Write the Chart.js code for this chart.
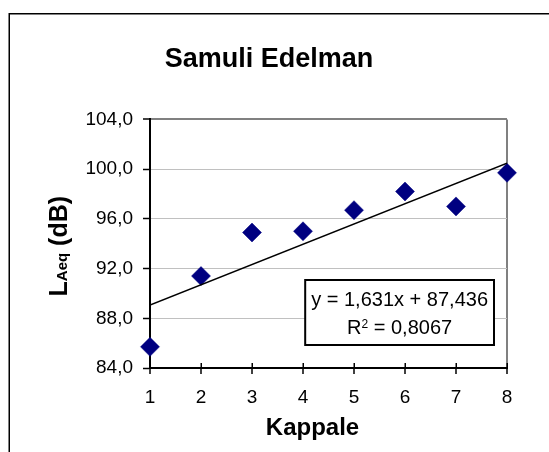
<!DOCTYPE html>
<html>
<head>
<meta charset="utf-8">
<script src="https://cdn.jsdelivr.net/npm/chart.js@4/dist/chart.umd.min.js"></script>
<style>
  html, body { margin: 0; padding: 0; background: #fff; }
  canvas { display: block; }
</style>
</head>
<body>
<canvas id="chart" width="549" height="452"></canvas>
<script>
// Song number and measured equivalent sound level per song
const songNumbers = [1, 2, 3, 4, 5, 6, 7, 8];
const laeqValues  = [85.7, 91.4, 94.9, 95.0, 96.7, 98.2, 97.0, 99.7];
const yTickValues = [84, 88, 92, 96, 100, 104];

// Linear trend reported for the series
const trendSlope = 1.631;
const trendIntercept = 87.436;
const trendR2 = 0.8067;

const chartTitle = 'Samuli Edelman';
const xAxisTitle = 'Kappale';

const FONT = "'Liberation Sans', Arial, Helvetica, sans-serif";
const fmt = (v, d) => v.toFixed(d).replace('.', ',');

const firstX = songNumbers[0];
const lastX = songNumbers[songNumbers.length - 1];
const trendPoints = [firstX, lastX].map(x => ({ x: x, y: trendSlope * x + trendIntercept }));

const decor = {
  id: 'decor',
  beforeDraw(chart) {
    const ctx = chart.ctx;
    ctx.save();
    ctx.fillStyle = '#fff';
    ctx.fillRect(0, 0, chart.width, chart.height);
    ctx.strokeStyle = '#000';
    ctx.lineWidth = 1.5;
    ctx.strokeRect(9.25, 13.75, chart.width + 50, chart.height + 50);
    ctx.restore();
  },
  afterDraw(chart) {
    const ctx = chart.ctx;
    const area = chart.chartArea;
    const xs = chart.scales.x;
    ctx.save();

    // inner half of the crossing tick marks on the category axis
    ctx.strokeStyle = '#000';
    ctx.lineWidth = 1.5;
    songNumbers.forEach(v => {
      const px = Math.round(xs.getPixelForValue(v)) + 0.25;
      ctx.beginPath();
      ctx.moveTo(px, area.bottom - 5);
      ctx.lineTo(px, area.bottom);
      ctx.stroke();
    });

    // y axis title: L with subscript Aeq, rotated
    ctx.fillStyle = '#000';
    ctx.textBaseline = 'alphabetic';
    ctx.textAlign = 'left';
    const mainFont = 'bold 25px ' + FONT;
    const subFont = 'bold 15px ' + FONT;
    ctx.font = mainFont; const wL = ctx.measureText('L').width; const wRest = ctx.measureText(' (dB)').width;
    ctx.font = subFont; const wSub = ctx.measureText('Aeq').width;
    const total = wL + wSub + wRest;
    ctx.translate(area.left - 83, (area.top + area.bottom) / 2 + 2.5);
    ctx.rotate(-Math.PI / 2);
    let tx = -total / 2;
    ctx.font = mainFont; ctx.fillText('L', tx, 0); tx += wL;
    ctx.font = subFont; ctx.fillText('Aeq', tx, 0); tx += wSub;
    ctx.font = mainFont; ctx.fillText(' (dB)', tx, 0);
    ctx.setTransform(1, 0, 0, 1, 0, 0);

    // x axis title
    ctx.font = 'bold 24px ' + FONT;
    ctx.textAlign = 'center';
    ctx.fillText(xAxisTitle, (area.left + area.right) / 2 - 16, area.bottom + 67);

    // trend equation box
    const line1 = 'y = ' + fmt(trendSlope, 3) + 'x + ' + fmt(trendIntercept, 3);
    const rest2 = ' = ' + fmt(trendR2, 4);
    ctx.font = '20px ' + FONT;
    const w1 = ctx.measureText(line1).width;
    const wR = ctx.measureText('R').width;
    const wR2 = ctx.measureText(rest2).width;
    ctx.font = '12px ' + FONT;
    const wSup = ctx.measureText('2').width;
    const boxW = w1 + 12;
    const boxH = 65;
    const boxR = area.right - 13;
    const boxB = area.bottom - 23;
    const boxL = boxR - boxW, boxT = boxB - boxH;
    ctx.fillStyle = '#fff';
    ctx.fillRect(boxL, boxT, boxW, boxH);
    ctx.strokeStyle = '#000';
    ctx.lineWidth = 2;
    ctx.strokeRect(boxL, boxT, boxW, boxH);
    ctx.fillStyle = '#000';
    const cx = boxL + boxW / 2;
    ctx.textAlign = 'center';
    ctx.font = '20px ' + FONT;
    ctx.fillText(line1, cx, boxT + 26);
    const w2 = wR + wSup + wR2;
    let x2 = cx - w2 / 2;
    ctx.textAlign = 'left';
    ctx.fillText('R', x2, boxT + 54); x2 += wR;
    ctx.font = '12px ' + FONT;
    ctx.fillText('2', x2, boxT + 48); x2 += wSup;
    ctx.font = '20px ' + FONT;
    ctx.fillText(rest2, x2, boxT + 54);
    ctx.restore();
  }
};

new Chart(document.getElementById('chart'), {
  type: 'scatter',
  data: {
    datasets: [
      {
        label: 'Trend',
        data: trendPoints,
        showLine: true,
        borderColor: '#000',
        borderWidth: 1.5,
        pointRadius: 0,
        pointHoverRadius: 0,
        fill: false
      },
      {
        label: 'LAeq',
        data: songNumbers.map((x, i) => ({ x: x, y: laeqValues[i] })),
        pointStyle: 'rectRot',
        pointRadius: 9.5,
        pointHoverRadius: 9.5,
        backgroundColor: '#000080',
        borderColor: '#000080',
        borderWidth: 0.5,
        clip: false
      }
    ]
  },
  options: {
    responsive: false,
    animation: false,
    events: [],
    layout: { padding: { left: 31, right: 42, top: 0, bottom: 0 } },
    plugins: {
      legend: { display: false },
      tooltip: { enabled: false },
      title: {
        display: true,
        text: chartTitle,
        color: '#000',
        font: { family: FONT, size: 27, weight: 'bold' },
        padding: { top: 43, bottom: 44 }
      }
    },
    scales: {
      x: {
        type: 'linear',
        min: firstX,
        max: lastX,
        afterBuildTicks: s => { s.ticks = songNumbers.map(v => ({ value: v })); },
        afterFit: s => { s.height = 84; },
        grid: {
          color: c => (c.index === songNumbers.length - 1 ? '#808080' : 'rgba(0,0,0,0)'),
          lineWidth: 2,
          tickColor: '#000',
          tickLength: 6,
          tickWidth: 1.5
        },
        border: { color: '#000', width: 2 },
        ticks: {
          color: '#000',
          font: { family: FONT, size: 19 },
          padding: 12,
          maxRotation: 0,
          callback: v => String(v)
        }
      },
      y: {
        type: 'linear',
        min: yTickValues[0],
        max: yTickValues[yTickValues.length - 1],
        afterBuildTicks: s => { s.ticks = yTickValues.map(v => ({ value: v })); },
        afterFit: s => { s.width = 119; },
        grid: {
          color: c => {
            const v = c.tick.value;
            if (v === yTickValues[0]) return 'rgba(0,0,0,0)';
            return v === yTickValues[yTickValues.length - 1] ? '#808080' : '#c0c0c0';
          },
          lineWidth: c => (c.tick.value === yTickValues[yTickValues.length - 1] ? 2 : 1),
          tickColor: '#000',
          tickLength: 7,
          tickWidth: 1.5
        },
        border: { color: '#000', width: 2 },
        ticks: {
          color: '#000',
          font: { family: FONT, size: 19 },
          padding: 10,
          callback: v => fmt(v, 1)
        }
      }
    }
  },
  plugins: [decor]
});
</script>
</body>
</html>
